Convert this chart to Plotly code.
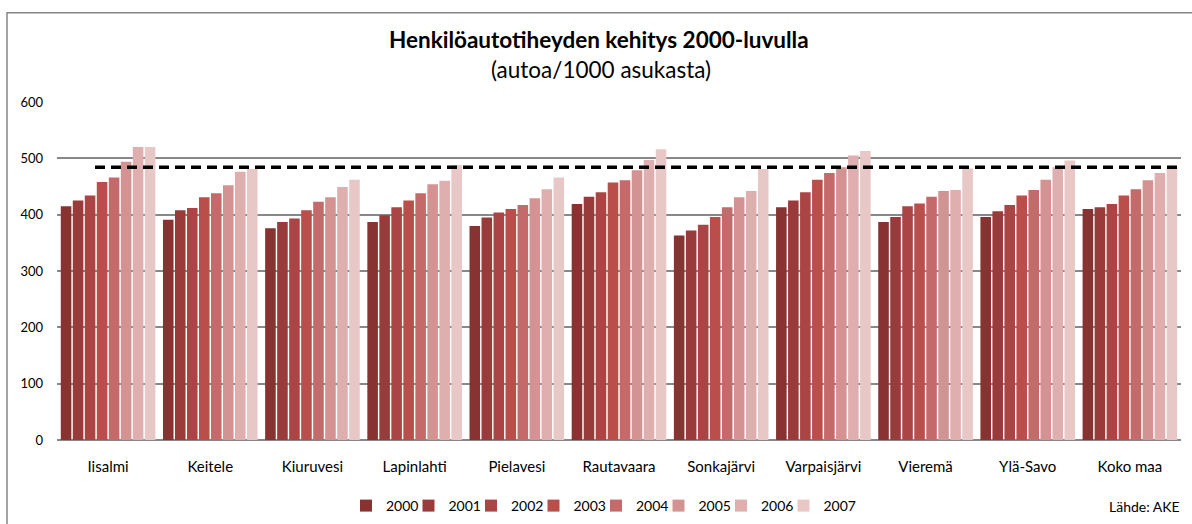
import plotly.graph_objects as go

categories = ["Iisalmi", "Keitele", "Kiuruvesi", "Lapinlahti", "Pielavesi", "Rautavaara",
              "Sonkajärvi", "Varpaisjärvi", "Vieremä", "Ylä-Savo", "Koko maa"]
years = ["2000", "2001", "2002", "2003", "2004", "2005", "2006", "2007"]

v2000 = [415, 391, 376, 387, 380, 419, 363, 413, 387, 396, 410]
v2001 = [425, 408, 387, 399, 395, 432, 372, 425, 396, 406, 413]
v2002 = [434, 412, 393, 413, 404, 440, 382, 440, 415, 417, 419]
v2003 = [458, 431, 408, 425, 410, 457, 396, 462, 420, 434, 434]
v2004 = [466, 438, 423, 438, 417, 461, 413, 474, 432, 444, 445]
v2005 = [494, 452, 431, 454, 429, 479, 431, 484, 442, 462, 461]
v2006 = [520, 476, 449, 460, 445, 497, 442, 505, 444, 484, 474]
v2007 = [520, 481, 462, 488, 466, 516, 481, 513, 482, 496, 483]
series = [v2000, v2001, v2002, v2003, v2004, v2005, v2006, v2007]

reference_value = 484  # Koko maa 2007 level (dashed line)

colors = ["#893232", "#9A3B3B", "#AB4545", "#B94E4B", "#C56A6A", "#D39393", "#DFAFAF", "#E8C7C7"]

fig = go.Figure()
for yr, vals, col in zip(years, series, colors):
    fig.add_trace(go.Bar(name=yr, x=categories, y=vals, marker=dict(color=col, line=dict(width=0)),
                         hoverinfo="x+y+name"))
# invisible trailing legend spacer (keeps the last legend label from being clipped)
fig.add_trace(go.Scatter(x=[None], y=[None], mode="markers", name=" ",
                         marker=dict(color="rgba(0,0,0,0)", size=1,
                                     line=dict(width=0, color="rgba(0,0,0,0)")),
                         hoverinfo="skip"))

FONT = "Lato, 'Open Sans', sans-serif"
W, H = 1192, 524
ML, MR, MT, MB = 57, 11, 101.5, 83.7

plot_h = H - MT - MB
plot_w = W - ML - MR
def py(pix):
    return (H - MB - pix) / plot_h
def px(pix):
    return (pix - ML) / plot_w

fig.update_layout(
    width=W, height=H,
    barmode="group", bargap=0.06, bargroupgap=0.12,
    paper_bgcolor="white", plot_bgcolor="white",
    margin=dict(l=ML, r=MR, t=MT, b=MB, autoexpand=False),
    font=dict(family=FONT, color="#000000", size=14),
    showlegend=True,
    legend=dict(orientation="h", x=(361 - 15) / W, xanchor="left", xref="container",
                y=(H - 506) / H, yanchor="middle", yref="container",
                font=dict(size=14), itemwidth=30, traceorder="normal",
                entrywidthmode="pixels", entrywidth=17.5),
    xaxis=dict(showline=False, ticks="", tickfont=dict(size=15), showgrid=False,
               ticklabelstandoff=16),
    yaxis=dict(range=[0, 600], dtick=100, showgrid=True, gridcolor="#888888", gridwidth=1.5,
               zeroline=True, zerolinecolor="#888888", zerolinewidth=2,
               showline=False, ticks="", tickfont=dict(size=13), ticklabelstandoff=13),
)

fig.add_annotation(text="<b>Henkilöautotiheyden kehitys 2000-luvulla</b>", x=px(599), y=py(39),
                   xref="paper", yref="paper", showarrow=False, font=dict(size=22.5),
                   xanchor="center", yanchor="middle")
fig.add_annotation(text="(autoa/1000 asukasta)", x=px(601), y=py(69),
                   xref="paper", yref="paper", showarrow=False, font=dict(size=22.5),
                   xanchor="center", yanchor="middle")
fig.add_annotation(text="Lähde: AKE", x=px(1182), y=py(507),
                   xref="paper", yref="paper", showarrow=False, font=dict(size=14),
                   xanchor="right", yanchor="middle")

# dashed reference line
fig.add_shape(type="line", xref="paper", yref="y", x0=px(95), x1=1.0,
              y0=reference_value, y1=reference_value,
              line=dict(color="black", width=3.5, dash="10px,6px"))

# chart frame
fig.add_shape(type="rect", xref="paper", yref="paper", x0=px(7), x1=px(1200),
              y0=py(530), y1=py(12), line=dict(color="#868686", width=1.5), layer="above")

fig.write_html("out.html", config={"displayModeBar": False},
               post_script="document.body.style.margin='0';document.body.style.overflow='hidden';")
